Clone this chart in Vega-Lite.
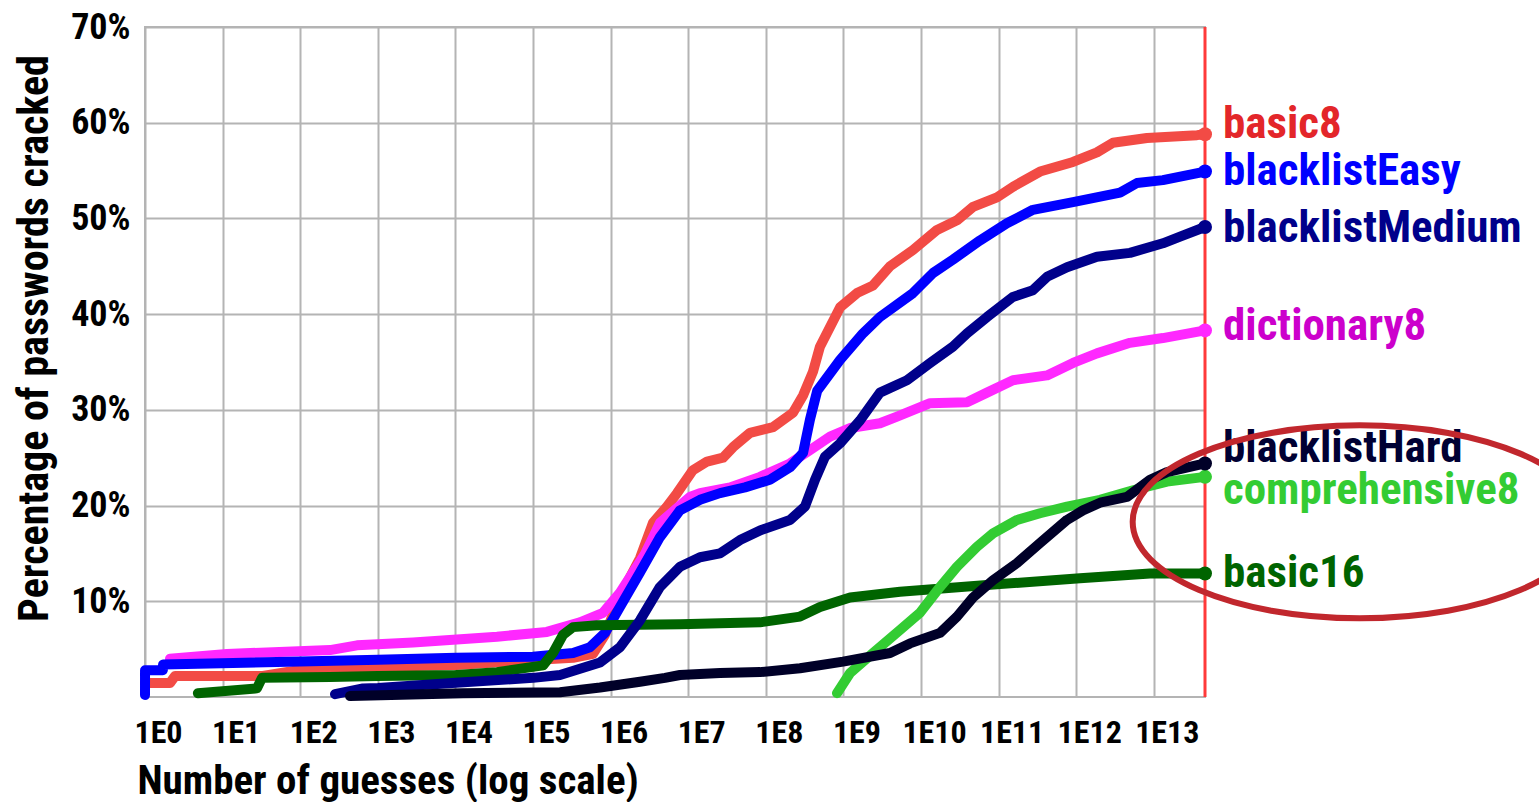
{
  "$schema": "https://vega.github.io/schema/vega-lite/v6.json",
  "width": 1060,
  "height": 670,
  "autosize": {"type": "none"},
  "padding": {"left": 145, "top": 27, "right": 334, "bottom": 105},
  "background": "white",
  "config": {
    "font": "Liberation Sans Narrow, Roboto Condensed, DejaVu Sans Condensed, sans-serif",
    "view": {"stroke": "#b4b4b4", "strokeWidth": 2}
  },
  "datasets": {
    "curves": [
      {"series":"basic8","guesses":1,"pct":1.46},
      {"series":"basic8","guesses":2.1,"pct":1.46},
      {"series":"basic8","guesses":2.44,"pct":2.19},
      {"series":"basic8","guesses":33,"pct":2.19},
      {"series":"basic8","guesses":99,"pct":2.82},
      {"series":"basic8","guesses":1007,"pct":3.13},
      {"series":"basic8","guesses":10190,"pct":3.34},
      {"series":"basic8","guesses":1e5,"pct":3.87},
      {"series":"basic8","guesses":3.28e5,"pct":4.1},
      {"series":"basic8","guesses":5.93e5,"pct":4.5},
      {"series":"basic8","guesses":8.47e5,"pct":6.5},
      {"series":"basic8","guesses":1.32e6,"pct":10.5},
      {"series":"basic8","guesses":2.39e6,"pct":14.5},
      {"series":"basic8","guesses":3.52e6,"pct":18.2},
      {"series":"basic8","guesses":5.33e6,"pct":19.9},
      {"series":"basic8","guesses":7.18e6,"pct":21.3},
      {"series":"basic8","guesses":1.15e7,"pct":23.7},
      {"series":"basic8","guesses":1.75e7,"pct":24.6},
      {"series":"basic8","guesses":2.81e7,"pct":25.0},
      {"series":"basic8","guesses":3.78e7,"pct":26.1},
      {"series":"basic8","guesses":6.25e7,"pct":27.6},
      {"series":"basic8","guesses":1.24e8,"pct":28.2},
      {"series":"basic8","guesses":2.24e8,"pct":29.7},
      {"series":"basic8","guesses":3.02e8,"pct":31.5},
      {"series":"basic8","guesses":4.06e8,"pct":34.0},
      {"series":"basic8","guesses":4.99e8,"pct":36.6},
      {"series":"basic8","guesses":9.04e8,"pct":40.7},
      {"series":"basic8","guesses":1.5e9,"pct":42.2},
      {"series":"basic8","guesses":2.41e9,"pct":43.0},
      {"series":"basic8","guesses":3.99e9,"pct":45.0},
      {"series":"basic8","guesses":7.89e9,"pct":46.7},
      {"series":"basic8","guesses":1.61e10,"pct":48.8},
      {"series":"basic8","guesses":2.91e10,"pct":49.8},
      {"series":"basic8","guesses":4.68e10,"pct":51.2},
      {"series":"basic8","guesses":9.53e10,"pct":52.2},
      {"series":"basic8","guesses":1.53e11,"pct":53.3},
      {"series":"basic8","guesses":3.42e11,"pct":54.9},
      {"series":"basic8","guesses":9.1e11,"pct":55.9},
      {"series":"basic8","guesses":1.85e12,"pct":56.9},
      {"series":"basic8","guesses":2.98e12,"pct":57.9},
      {"series":"basic8","guesses":8.17e12,"pct":58.4},
      {"series":"basic8","guesses":3.61e13,"pct":58.7},
      {"series":"basic8","guesses":4.57e13,"pct":58.8},

      {"series":"dictionary8","guesses":2.1,"pct":4.0},
      {"series":"dictionary8","guesses":11.4,"pct":4.5},
      {"series":"dictionary8","guesses":242,"pct":4.9},
      {"series":"dictionary8","guesses":540,"pct":5.4},
      {"series":"dictionary8","guesses":2844,"pct":5.7},
      {"series":"dictionary8","guesses":34360,"pct":6.3},
      {"series":"dictionary8","guesses":1.51e5,"pct":6.8},
      {"series":"dictionary8","guesses":4.03e5,"pct":7.8},
      {"series":"dictionary8","guesses":7.98e5,"pct":8.8},
      {"series":"dictionary8","guesses":1.32e6,"pct":10.9},
      {"series":"dictionary8","guesses":2.8e6,"pct":15.0},
      {"series":"dictionary8","guesses":4.33e6,"pct":18.2},
      {"series":"dictionary8","guesses":1.05e7,"pct":20.9},
      {"series":"dictionary8","guesses":1.42e7,"pct":21.3},
      {"series":"dictionary8","guesses":3.46e7,"pct":21.9},
      {"series":"dictionary8","guesses":8.42e7,"pct":23.0},
      {"series":"dictionary8","guesses":2.05e8,"pct":24.4},
      {"series":"dictionary8","guesses":3.71e8,"pct":25.8},
      {"series":"dictionary8","guesses":6.72e8,"pct":27.2},
      {"series":"dictionary8","guesses":1.22e9,"pct":28.1},
      {"series":"dictionary8","guesses":2.96e9,"pct":28.6},
      {"series":"dictionary8","guesses":4.91e9,"pct":29.3},
      {"series":"dictionary8","guesses":1.31e10,"pct":30.7},
      {"series":"dictionary8","guesses":3.92e10,"pct":30.8},
      {"series":"dictionary8","guesses":7.09e10,"pct":31.8},
      {"series":"dictionary8","guesses":1.53e11,"pct":33.1},
      {"series":"dictionary8","guesses":4.21e11,"pct":33.6},
      {"series":"dictionary8","guesses":9.1e11,"pct":34.9},
      {"series":"dictionary8","guesses":1.85e12,"pct":35.9},
      {"series":"dictionary8","guesses":4.93e12,"pct":37.0},
      {"series":"dictionary8","guesses":1.31e13,"pct":37.5},
      {"series":"dictionary8","guesses":4.57e13,"pct":38.3},

      {"series":"blacklistEasy","guesses":1,"pct":0.2},
      {"series":"blacklistEasy","guesses":1.001,"pct":2.8},
      {"series":"blacklistEasy","guesses":1.7,"pct":2.8},
      {"series":"blacklistEasy","guesses":1.71,"pct":3.4},
      {"series":"blacklistEasy","guesses":99,"pct":3.7},
      {"series":"blacklistEasy","guesses":1007,"pct":3.9},
      {"series":"blacklistEasy","guesses":10190,"pct":4.1},
      {"series":"blacklistEasy","guesses":1e5,"pct":4.2},
      {"series":"blacklistEasy","guesses":3.28e5,"pct":4.6},
      {"series":"blacklistEasy","guesses":5.43e5,"pct":5.2},
      {"series":"blacklistEasy","guesses":8.47e5,"pct":6.7},
      {"series":"blacklistEasy","guesses":1.32e6,"pct":9.4},
      {"series":"blacklistEasy","guesses":2.39e6,"pct":13.0},
      {"series":"blacklistEasy","guesses":4.33e6,"pct":16.7},
      {"series":"blacklistEasy","guesses":7.84e6,"pct":19.5},
      {"series":"blacklistEasy","guesses":1.42e7,"pct":20.6},
      {"series":"blacklistEasy","guesses":2.57e7,"pct":21.3},
      {"series":"blacklistEasy","guesses":5.4e7,"pct":21.9},
      {"series":"blacklistEasy","guesses":1.13e8,"pct":22.7},
      {"series":"blacklistEasy","guesses":2.05e8,"pct":24.0},
      {"series":"blacklistEasy","guesses":3.02e8,"pct":25.5},
      {"series":"blacklistEasy","guesses":3.71e8,"pct":29.0},
      {"series":"blacklistEasy","guesses":4.6e8,"pct":32.0},
      {"series":"blacklistEasy","guesses":9.04e8,"pct":35.2},
      {"series":"blacklistEasy","guesses":1.79e9,"pct":38.0},
      {"series":"blacklistEasy","guesses":2.96e9,"pct":39.7},
      {"series":"blacklistEasy","guesses":7.89e9,"pct":42.2},
      {"series":"blacklistEasy","guesses":1.43e10,"pct":44.3},
      {"series":"blacklistEasy","guesses":2.58e10,"pct":45.7},
      {"series":"blacklistEasy","guesses":5.76e10,"pct":47.7},
      {"series":"blacklistEasy","guesses":1.28e11,"pct":49.5},
      {"series":"blacklistEasy","guesses":2.77e11,"pct":50.9},
      {"series":"blacklistEasy","guesses":9.1e11,"pct":51.7},
      {"series":"blacklistEasy","guesses":3.67e12,"pct":52.7},
      {"series":"blacklistEasy","guesses":6.08e12,"pct":53.7},
      {"series":"blacklistEasy","guesses":1.31e13,"pct":54.0},
      {"series":"blacklistEasy","guesses":4.57e13,"pct":54.9},

      {"series":"basic16","guesses":4.8,"pct":0.4},
      {"series":"basic16","guesses":27.7,"pct":0.9},
      {"series":"basic16","guesses":32.2,"pct":2.0},
      {"series":"basic16","guesses":242,"pct":2.1},
      {"series":"basic16","guesses":1007,"pct":2.2},
      {"series":"basic16","guesses":10190,"pct":2.3},
      {"series":"basic16","guesses":34360,"pct":2.6},
      {"series":"basic16","guesses":1.35e5,"pct":3.3},
      {"series":"basic16","guesses":1.81e5,"pct":4.6},
      {"series":"basic16","guesses":2.44e5,"pct":6.5},
      {"series":"basic16","guesses":3.28e5,"pct":7.3},
      {"series":"basic16","guesses":6.68e5,"pct":7.5},
      {"series":"basic16","guesses":7.84e6,"pct":7.6},
      {"series":"basic16","guesses":8.42e7,"pct":7.8},
      {"series":"basic16","guesses":2.76e8,"pct":8.4},
      {"series":"basic16","guesses":5.0e8,"pct":9.4},
      {"series":"basic16","guesses":1.22e9,"pct":10.4},
      {"series":"basic16","guesses":5.36e9,"pct":11.0},
      {"series":"basic16","guesses":1.04e11,"pct":11.8},
      {"series":"basic16","guesses":1.12e12,"pct":12.4},
      {"series":"basic16","guesses":8.94e12,"pct":12.9},
      {"series":"basic16","guesses":4.57e13,"pct":12.9},

      {"series":"comprehensive8","guesses":8.27e8,"pct":0.4},
      {"series":"comprehensive8","guesses":1.22e9,"pct":2.5},
      {"series":"comprehensive8","guesses":2.41e9,"pct":4.6},
      {"series":"comprehensive8","guesses":5.36e9,"pct":7.0},
      {"series":"comprehensive8","guesses":9.71e9,"pct":8.8},
      {"series":"comprehensive8","guesses":1.76e10,"pct":11.5},
      {"series":"comprehensive8","guesses":2.91e10,"pct":13.6},
      {"series":"comprehensive8","guesses":5.27e10,"pct":15.7},
      {"series":"comprehensive8","guesses":8.47e10,"pct":17.1},
      {"series":"comprehensive8","guesses":1.73e11,"pct":18.5},
      {"series":"comprehensive8","guesses":3.42e11,"pct":19.2},
      {"series":"comprehensive8","guesses":7.61e11,"pct":19.9},
      {"series":"comprehensive8","guesses":2.03e12,"pct":20.6},
      {"series":"comprehensive8","guesses":5.4e12,"pct":21.6},
      {"series":"comprehensive8","guesses":1.48e13,"pct":22.5},
      {"series":"comprehensive8","guesses":4.57e13,"pct":23.0},

      {"series":"blacklistMedium","guesses":281,"pct":0.3},
      {"series":"blacklistMedium","guesses":645,"pct":0.9},
      {"series":"blacklistMedium","guesses":1007,"pct":0.95},
      {"series":"blacklistMedium","guesses":10190,"pct":1.5},
      {"series":"blacklistMedium","guesses":1e5,"pct":2.0},
      {"series":"blacklistMedium","guesses":2.23e5,"pct":2.3},
      {"series":"blacklistMedium","guesses":7.3e5,"pct":3.6},
      {"series":"blacklistMedium","guesses":1.32e6,"pct":5.2},
      {"series":"blacklistMedium","guesses":2.39e6,"pct":8.0},
      {"series":"blacklistMedium","guesses":4.33e6,"pct":11.5},
      {"series":"blacklistMedium","guesses":7.84e6,"pct":13.6},
      {"series":"blacklistMedium","guesses":1.42e7,"pct":14.6},
      {"series":"blacklistMedium","guesses":2.57e7,"pct":15.0},
      {"series":"blacklistMedium","guesses":4.65e7,"pct":16.4},
      {"series":"blacklistMedium","guesses":8.42e7,"pct":17.4},
      {"series":"blacklistMedium","guesses":2.05e8,"pct":18.5},
      {"series":"blacklistMedium","guesses":3.2e8,"pct":19.9},
      {"series":"blacklistMedium","guesses":4.31e8,"pct":22.7},
      {"series":"blacklistMedium","guesses":5.79e8,"pct":25.1},
      {"series":"blacklistMedium","guesses":9.04e8,"pct":26.5},
      {"series":"blacklistMedium","guesses":1.64e9,"pct":28.9},
      {"series":"blacklistMedium","guesses":2.96e9,"pct":31.8},
      {"series":"blacklistMedium","guesses":6.6e9,"pct":33.1},
      {"series":"blacklistMedium","guesses":1.31e10,"pct":34.9},
      {"series":"blacklistMedium","guesses":2.58e10,"pct":36.6},
      {"series":"blacklistMedium","guesses":3.92e10,"pct":38.0},
      {"series":"blacklistMedium","guesses":7.09e10,"pct":39.7},
      {"series":"blacklistMedium","guesses":1.53e11,"pct":41.8},
      {"series":"blacklistMedium","guesses":2.77e11,"pct":42.5},
      {"series":"blacklistMedium","guesses":4.21e11,"pct":43.9},
      {"series":"blacklistMedium","guesses":7.61e11,"pct":44.9},
      {"series":"blacklistMedium","guesses":1.85e12,"pct":46.0},
      {"series":"blacklistMedium","guesses":4.93e12,"pct":46.4},
      {"series":"blacklistMedium","guesses":1.31e13,"pct":47.4},
      {"series":"blacklistMedium","guesses":2.18e13,"pct":48.1},
      {"series":"blacklistMedium","guesses":4.57e13,"pct":49.1},

      {"series":"blacklistHard","guesses":439,"pct":0.1},
      {"series":"blacklistHard","guesses":12530,"pct":0.4},
      {"series":"blacklistHard","guesses":2.23e5,"pct":0.5},
      {"series":"blacklistHard","guesses":7.3e5,"pct":1.0},
      {"series":"blacklistHard","guesses":2.39e6,"pct":1.6},
      {"series":"blacklistHard","guesses":5.02e6,"pct":2.0},
      {"series":"blacklistHard","guesses":7.84e6,"pct":2.3},
      {"series":"blacklistHard","guesses":2.57e7,"pct":2.5},
      {"series":"blacklistHard","guesses":8.42e7,"pct":2.6},
      {"series":"blacklistHard","guesses":2.76e8,"pct":3.0},
      {"series":"blacklistHard","guesses":9.89e8,"pct":3.7},
      {"series":"blacklistHard","guesses":3.99e9,"pct":4.6},
      {"series":"blacklistHard","guesses":7.22e9,"pct":5.6},
      {"series":"blacklistHard","guesses":1.76e10,"pct":6.7},
      {"series":"blacklistHard","guesses":2.91e10,"pct":8.4},
      {"series":"blacklistHard","guesses":4.68e10,"pct":10.4},
      {"series":"blacklistHard","guesses":8.47e10,"pct":12.2},
      {"series":"blacklistHard","guesses":1.73e11,"pct":14.0},
      {"series":"blacklistHard","guesses":3.42e11,"pct":16.1},
      {"series":"blacklistHard","guesses":7.61e11,"pct":18.5},
      {"series":"blacklistHard","guesses":1.22e12,"pct":19.5},
      {"series":"blacklistHard","guesses":2.03e12,"pct":20.3},
      {"series":"blacklistHard","guesses":4.51e12,"pct":20.9},
      {"series":"blacklistHard","guesses":8.94e12,"pct":22.7},
      {"series":"blacklistHard","guesses":1.48e13,"pct":23.5},
      {"series":"blacklistHard","guesses":4.57e13,"pct":24.4}
    ],
    "ends": [
      {"series":"basic8","guesses":4.57e13,"pct":58.8,"labelPct":58.4},
      {"series":"dictionary8","guesses":4.57e13,"pct":38.3,"labelPct":37.3},
      {"series":"blacklistEasy","guesses":4.57e13,"pct":54.9,"labelPct":53.5},
      {"series":"basic16","guesses":4.57e13,"pct":12.9,"labelPct":11.5},
      {"series":"comprehensive8","guesses":4.57e13,"pct":23.0,"labelPct":20.2},
      {"series":"blacklistMedium","guesses":4.57e13,"pct":49.1,"labelPct":47.5},
      {"series":"blacklistHard","guesses":4.57e13,"pct":24.4,"labelPct":24.6}
    ]
  },
  "layer": [
    {
      "data": {"values": [{"guesses": 4.57e13}]},
      "mark": {"type": "rule", "color": "#ff3a3a", "strokeWidth": 3},
      "encoding": {
        "x": {"field": "guesses", "type": "quantitative"}
      }
    },
    {
      "data": {"name": "curves"},
      "mark": {"type": "line", "strokeWidth": 10, "strokeCap": "round", "strokeJoin": "round"},
      "encoding": {
        "x": {
          "field": "guesses", "type": "quantitative",
          "scale": {"type": "log", "domain": [1, 4.57e13], "nice": false},
          "axis": {
            "values": [1, 10, 100, 1000, 10000, 100000, 1000000, 10000000, 100000000, 1000000000, 10000000000, 100000000000, 1000000000000, 10000000000000],
            "labelExpr": "'1E' + round(log(datum.value) / LN10)",
            "grid": true, "gridColor": "#b4b4b4", "gridWidth": 2,
            "domain": false, "ticks": false, "tickSize": 0,
            "labelFontSize": 32, "labelFontWeight": "bold", "labelColor": "#000000",
            "labelAlign": "center", "labelOffset": 13, "labelBaseline": "alphabetic", "labelPadding": 45,
            "labelOverlap": false, "labelFlush": false,
            "title": "Number of guesses (log scale)",
            "titleFontSize": 41, "titleFontWeight": "bold", "titleColor": "#000000",
            "titleAnchor": "start", "titleAlign": "left", "titleBaseline": "alphabetic",
            "titleX": -8, "titleY": 96
          }
        },
        "y": {
          "field": "pct", "type": "quantitative",
          "scale": {"domain": [0, 70], "nice": false},
          "axis": {
            "values": [10, 20, 30, 40, 50, 60, 70],
            "labelExpr": "datum.value + '%'",
            "grid": true, "gridColor": "#b4b4b4", "gridWidth": 2,
            "domain": false, "ticks": false, "tickSize": 0,
            "labelFontSize": 36, "labelFontWeight": "bold", "labelColor": "#000000",
            "labelPadding": 15, "labelDy": -2,
            "title": "Percentage of passwords cracked",
            "titleFontSize": 42, "titleFontWeight": "bold", "titleColor": "#000000",
            "titleAngle": 270, "titleAlign": "center", "titleBaseline": "alphabetic",
            "titleX": -98, "titleY": 311
          }
        },
        "color": {
          "field": "series", "type": "nominal", "legend": null,
          "scale": {
            "domain": ["basic8", "dictionary8", "blacklistEasy", "basic16", "comprehensive8", "blacklistMedium", "blacklistHard"],
            "range": ["#f24b45", "#ff28ff", "#0000ff", "#006400", "#33cc33", "#00008b", "#000028"]
          }
        }
      }
    },
    {
      "data": {"name": "ends"},
      "mark": {"type": "point", "shape": "circle", "filled": true, "opacity": 1, "size": 196},
      "encoding": {
        "x": {"field": "guesses", "type": "quantitative"},
        "y": {"field": "pct", "type": "quantitative"},
        "color": {
          "field": "series", "type": "nominal", "legend": null,
          "scale": {
            "domain": ["basic8", "dictionary8", "blacklistEasy", "basic16", "comprehensive8", "blacklistMedium", "blacklistHard"],
            "range": ["#f24b45", "#ff28ff", "#0000ff", "#006400", "#33cc33", "#00008b", "#000028"]
          }
        }
      }
    },
    {
      "data": {"name": "ends"},
      "mark": {"type": "text", "align": "left", "baseline": "alphabetic", "dx": 18, "fontSize": 45, "fontWeight": "bold"},
      "encoding": {
        "x": {"field": "guesses", "type": "quantitative"},
        "y": {"field": "labelPct", "type": "quantitative"},
        "text": {"field": "series"},
        "color": {
          "field": "series", "type": "nominal", "legend": null,
          "scale": {
            "domain": ["basic8", "dictionary8", "blacklistEasy", "basic16", "comprehensive8", "blacklistMedium", "blacklistHard"],
            "range": ["#e3262a", "#cc00cc", "#0000ff", "#006400", "#33cc33", "#00008b", "#000033"]
          }
        }
      }
    },
    {
      "data": {"values": [{"guesses": 4.5e15, "pct": 18.3}]},
      "mark": {
        "type": "point",
        "shape": "M-1,0A1,0.425,0,1,1,1,0A1,0.425,0,1,1,-1,0Z",
        "filled": false, "opacity": 1, "size": 206116,
        "color": "#c1272d", "strokeWidth": 6
      },
      "encoding": {
        "x": {"field": "guesses", "type": "quantitative"},
        "y": {"field": "pct", "type": "quantitative"}
      }
    }
  ],
  "resolve": {"scale": {"color": "independent"}}
}
